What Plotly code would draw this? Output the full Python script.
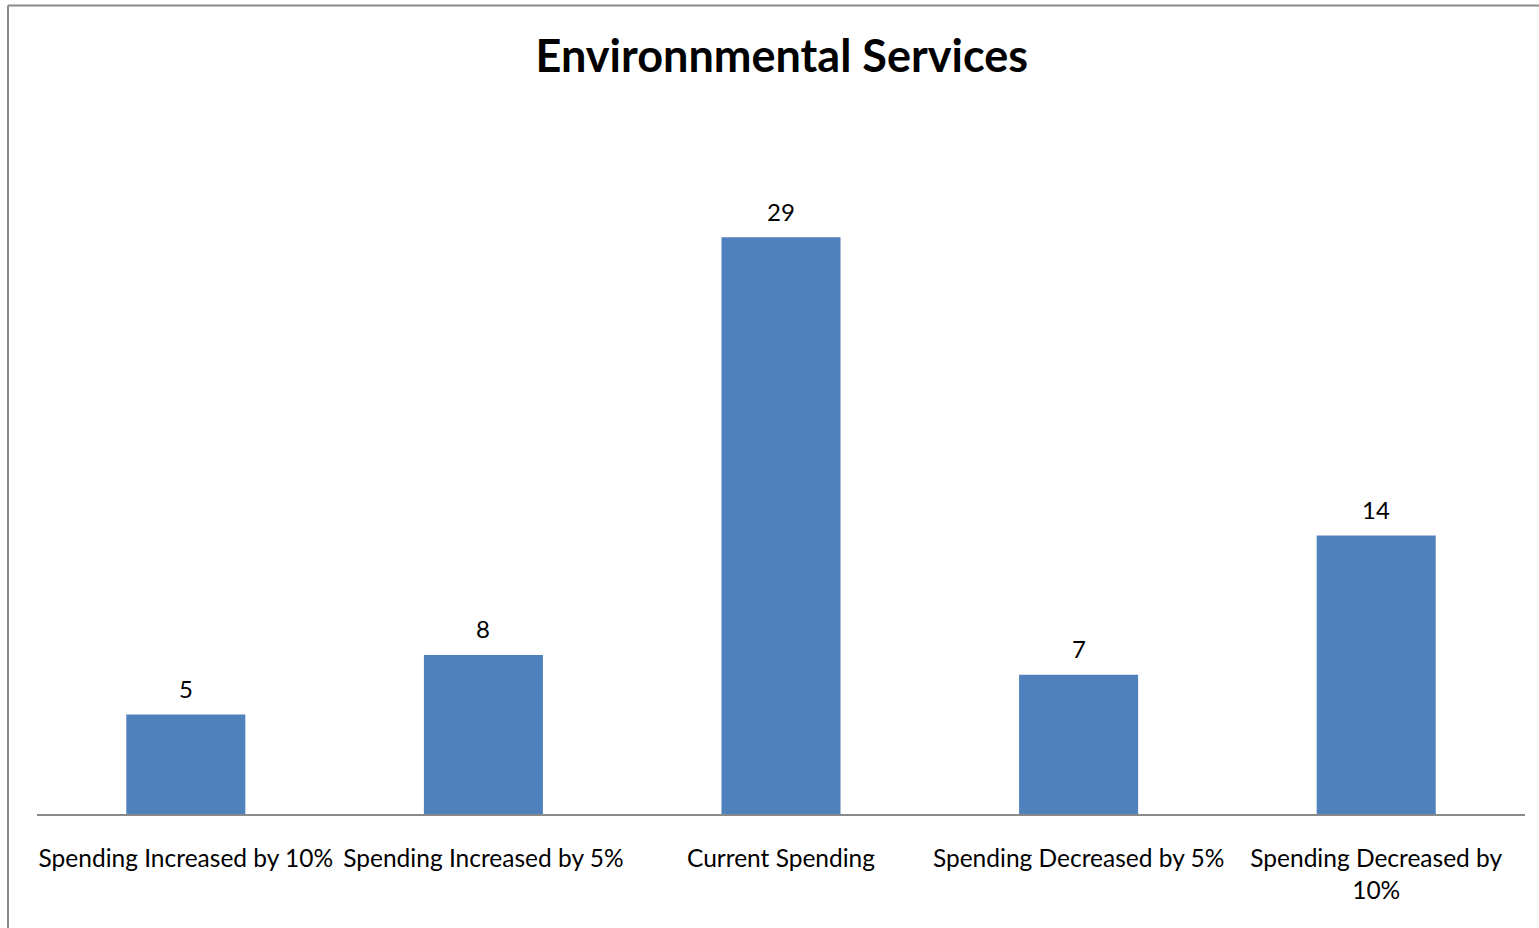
import plotly.graph_objects as go

categories = [
    "Spending Increased by 10%",
    "Spending Increased by 5%",
    "Current Spending",
    "Spending Decreased by 5%",
    "Spending Decreased by<br>10%",
]
responses = [5, 8, 29, 7, 14]

W, H = 1539, 928
L, R, T, B = 37, 14, 118, 114
plot_w = W - L - R
plot_h = H - T - B
FONT = "Lato"

fig = go.Figure(
    go.Bar(
        x=categories,
        y=responses,
        marker=dict(color="#4F81BD", line=dict(width=0)),
        width=0.4,
        hoverinfo="x+y",
    )
)

# value labels above each bar
for cat, val in zip(categories, responses):
    fig.add_annotation(
        x=cat, y=val, xref="x", yref="y",
        text=str(val), showarrow=False,
        yanchor="middle", yshift=26,
        font=dict(family=FONT, size=24, color="#000000"),
    )

# chart frame (left and top edges)
fx = (8 - L) / plot_w
fy = (H - B - 5.5) / plot_h
fig.add_shape(type="line", xref="paper", yref="paper", x0=fx, x1=fx, y0=-1, y1=fy,
              line=dict(color="#8A8A8A", width=2))
fig.add_shape(type="line", xref="paper", yref="paper", x0=fx, x1=2, y0=fy, y1=fy,
              line=dict(color="#8A8A8A", width=2))

fig.update_layout(
    width=W,
    height=H,
    margin=dict(l=L, r=R, t=T, b=B),
    paper_bgcolor="white",
    plot_bgcolor="white",
    showlegend=False,
    title=dict(
        text="<b>Environnmental Services</b>",
        x=0.508,
        xanchor="center",
        y=1 - 56 / H,
        yanchor="middle",
        font=dict(family=FONT, size=45, color="#000000"),
    ),
    xaxis=dict(
        showline=True,
        linecolor="#8A8A8A",
        linewidth=2,
        ticks="outside",
        ticklen=22,
        tickcolor="rgba(0,0,0,0)",
        tickfont=dict(family=FONT, size=24.5, color="#000000"),
        showgrid=False,
        fixedrange=True,
    ),
    yaxis=dict(
        range=[0, 35],
        visible=False,
        showgrid=False,
        zeroline=False,
    ),
)

fig.write_html("out.html")
